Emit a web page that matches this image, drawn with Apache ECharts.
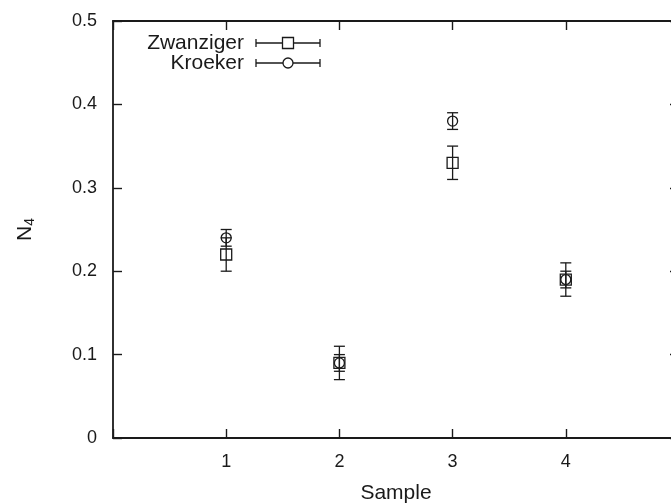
<!DOCTYPE html>
<html><head><meta charset="utf-8">
<script src="https://cdn.jsdelivr.net/npm/echarts@6/dist/echarts.min.js"></script>
<style>html,body{margin:0;padding:0;background:#fff;overflow:hidden}#c{width:671px;height:503px}</style>
</head><body><div id="c"></div>
<script>
var samples = [1, 2, 3, 4];
var zwanzigerValues = [0.22, 0.09, 0.33, 0.19];
var zwanzigerErrors = [0.02, 0.02, 0.02, 0.02];
var kroekerValues = [0.24, 0.09, 0.38, 0.19];
var kroekerErrors = [0.01, 0.01, 0.01, 0.01];
var xTicks = [1, 2, 3, 4];
var yTicks = [0, 0.1, 0.2, 0.3, 0.4, 0.5];

var FONT = '"Liberation Sans", Arial, Helvetica, sans-serif';
var INK = '#1a1a1a';

function errItem(marker) {
  return function (params, api) {
    var x = api.value(0), y = api.value(1), e = api.value(2);
    var c = api.coord([x, y]);
    var lo = api.coord([x, y - e]);
    var hi = api.coord([x, y + e]);
    var cap = 5.5;
    var st = {stroke: INK, lineWidth: 1.3, fill: null};
    var ch = [
      {type: 'line', shape: {x1: c[0], y1: lo[1], x2: c[0], y2: hi[1]}, style: st},
      {type: 'line', shape: {x1: c[0] - cap, y1: lo[1], x2: c[0] + cap, y2: lo[1]}, style: st},
      {type: 'line', shape: {x1: c[0] - cap, y1: hi[1], x2: c[0] + cap, y2: hi[1]}, style: st}
    ];
    if (marker === 'square') {
      ch.push({type: 'rect', shape: {x: c[0] - 5.5, y: c[1] - 5.5, width: 11, height: 11}, style: {stroke: INK, lineWidth: 1.3, fill: 'none'}});
    } else {
      ch.push({type: 'circle', shape: {cx: c[0], cy: c[1], r: 5}, style: {stroke: INK, lineWidth: 1.3, fill: 'none'}});
    }
    return {type: 'group', children: ch};
  };
}

function legendEntry(y, label, marker) {
  var st = {stroke: INK, lineWidth: 1.3};
  var els = [
    {type: 'text', x: 244, y: y, style: {text: label, font: '21px ' + FONT, fill: INK, textAlign: 'right', textVerticalAlign: 'middle'}},
    {type: 'line', shape: {x1: 256, y1: y, x2: 320, y2: y}, style: st},
    {type: 'line', shape: {x1: 256, y1: y - 4, x2: 256, y2: y + 4}, style: st},
    {type: 'line', shape: {x1: 320, y1: y - 4, x2: 320, y2: y + 4}, style: st}
  ];
  if (marker === 'square') els.push({type: 'rect', shape: {x: 282.5, y: y - 5.5, width: 11, height: 11}, style: {stroke: INK, lineWidth: 1.3, fill: '#fff'}});
  else els.push({type: 'circle', shape: {cx: 288, cy: y, r: 5}, style: {stroke: INK, lineWidth: 1.3, fill: '#fff'}});
  return els;
}

var chart = echarts.init(document.getElementById('c'), null, {renderer: 'canvas'});
var axisLineStyle = {color: INK, width: 1.8};
var tickStyle = {show: true, inside: true, length: 9, lineStyle: {color: INK, width: 1.4}};
chart.setOption({
  animation: false,
  grid: {left: 113, right: -8, top: 21, bottom: 65, containLabel: false, outerBoundsMode: 'none'},
  xAxis: [{
    type: 'value', min: 0, max: 5, interval: 1, position: 'bottom',
    name: 'Sample', nameLocation: 'middle', nameGap: 45,
    nameTextStyle: {fontFamily: FONT, fontSize: 21, color: INK},
    axisLine: {show: true, onZero: false, lineStyle: axisLineStyle},
    axisTick: tickStyle, splitLine: {show: false},
    axisLabel: {margin: 15, fontFamily: FONT, fontSize: 18, color: INK,
      formatter: function (v) { return xTicks.indexOf(v) >= 0 ? String(v) : ''; }}
  }, {
    type: 'value', min: 0, max: 5, interval: 1, position: 'top',
    axisLine: {show: true, onZero: false, lineStyle: axisLineStyle},
    axisTick: tickStyle, axisLabel: {show: false}, splitLine: {show: false}
  }],
  yAxis: [{
    type: 'value', min: 0, max: 0.5, interval: 0.1, position: 'left',
    name: 'N{s|4}', nameLocation: 'middle', nameGap: 76, nameRotate: 90,
    nameTextStyle: {fontFamily: FONT, fontSize: 21, color: INK,
      rich: {s: {fontFamily: FONT, fontSize: 14, color: INK, verticalAlign: 'bottom', padding: [10, 0, 0, 0]}}},
    axisLine: {show: true, onZero: false, lineStyle: axisLineStyle},
    axisTick: tickStyle, splitLine: {show: false},
    axisLabel: {margin: 16, fontFamily: FONT, fontSize: 18, color: INK,
      formatter: function (v) { var r = Math.round(v * 10) / 10; return yTicks.indexOf(r) >= 0 ? String(r) : ''; }}
  }, {
    type: 'value', min: 0, max: 0.5, interval: 0.1, position: 'right',
    axisLine: {show: true, onZero: false, lineStyle: axisLineStyle},
    axisTick: tickStyle, axisLabel: {show: false}, splitLine: {show: false}
  }],
  series: [{
    name: 'Zwanziger', type: 'custom', renderItem: errItem('square'),
    data: samples.map(function (s, i) { return [s, zwanzigerValues[i], zwanzigerErrors[i]]; }),
    encode: {x: 0, y: 1}, z: 5
  }, {
    name: 'Kroeker', type: 'custom', renderItem: errItem('circle'),
    data: samples.map(function (s, i) { return [s, kroekerValues[i], kroekerErrors[i]]; }),
    encode: {x: 0, y: 1}, z: 6
  }],
  graphic: legendEntry(43, 'Zwanziger', 'square').concat(legendEntry(63, 'Kroeker', 'circle'))
});
</script></body></html>
